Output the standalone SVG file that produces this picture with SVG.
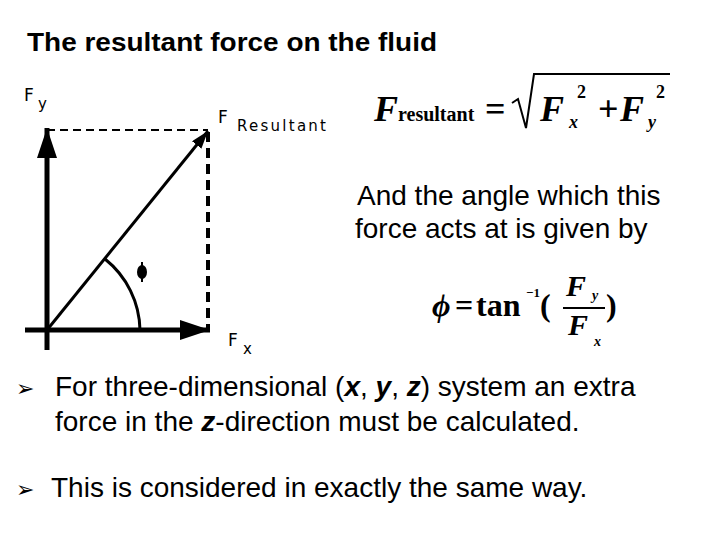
<svg xmlns="http://www.w3.org/2000/svg" width="720" height="540" viewBox="0 0 720 540">
<style>
.s{font-family:"Liberation Sans",Arial,sans-serif;fill:#000}
.m{font-family:"Liberation Serif","Times New Roman",serif;font-weight:bold;fill:#000}
.d{font-family:"DejaVu Sans",sans-serif;fill:#000}
.ln{stroke:#000;fill:none}
</style>
<defs>
<marker id="ah" markerWidth="6" markerHeight="4" refX="6" refY="2" orient="auto" markerUnits="strokeWidth"><path d="M0,0L6,2L0,4z" fill="#000"/></marker>
</defs>
<rect width="720" height="540" fill="#fff"/>
<text class="s" x="27" y="51" font-size="25" font-weight="bold" textLength="410" lengthAdjust="spacingAndGlyphs">The resultant force on the fluid</text>
<g id="connectors">
<line class="ln" x1="47" y1="350" x2="47" y2="128" stroke-width="5" marker-end="url(#ah)"/>
<line class="ln" x1="25" y1="330" x2="210" y2="330" stroke-width="5" marker-end="url(#ah)"/>
<line class="ln" x1="47" y1="330" x2="208" y2="131" stroke-width="3" marker-end="url(#ah)"/>
<line class="ln" x1="47" y1="130" x2="208" y2="130" stroke-width="2" stroke-dasharray="8,5"/>
<line class="ln" x1="208" y1="132" x2="208" y2="330" stroke-width="4" stroke-dasharray="10,6"/>
<path class="ln" d="M105,259 A93,93 0 0 1 140,330" stroke-width="3"/>
</g>
<g id="labels">
<text class="d" x="24" y="101" font-size="17">F</text><text class="d" x="38" y="109" font-size="15">y</text>
<text class="d" x="218" y="123" font-size="17">F</text><text class="d" x="237" y="131" font-size="15" textLength="89">Resultant</text>
<text class="d" x="228" y="346" font-size="17">F</text><text class="d" x="243" y="354" font-size="15">x</text>
<ellipse cx="142" cy="272" rx="5" ry="7" fill="#000"/><line class="ln" x1="142" y1="262" x2="142" y2="282" stroke-width="2"/>
</g>
<g id="formula1">
<text class="m" x="374" y="121" font-size="36" font-style="italic">F</text>
<text class="m" x="398" y="121" font-size="20">resultant</text>
<text class="m" x="485" y="121" font-size="36">=</text>
<path d="M512,103 L518,99 L526,128 L534,74 L670,74" class="ln" stroke-width="2"/>
<text class="m" x="540" y="121" font-size="36" font-style="italic">F</text>
<text class="m" x="569" y="128" font-size="18" font-style="italic">x</text>
<text class="m" x="577" y="98" font-size="18">2</text>
<text class="m" x="598" y="121" font-size="36">+</text>
<text class="m" x="620" y="121" font-size="36" font-style="italic">F</text>
<text class="m" x="648" y="128" font-size="18" font-style="italic">y</text>
<text class="m" x="656" y="98" font-size="18">2</text>
</g>
<text class="s" x="357" y="205" font-size="28">And the angle which this</text>
<text class="s" x="355" y="238" font-size="28">force acts at is given by</text>
<g id="formula2">
<text class="m" x="432" y="316" font-size="32" font-style="italic">ϕ</text>
<text class="m" x="455" y="316" font-size="32">=</text>
<text class="m" x="476" y="316" font-size="32">tan</text>
<text class="m" x="526" y="297" font-size="13">−1</text>
<text class="m" x="540" y="316" font-size="32">(</text>
<text class="m" x="566" y="296" font-size="30" font-style="italic">F</text>
<text class="m" x="592" y="300" font-size="14" font-style="italic">y</text>
<line class="ln" x1="563" y1="308" x2="605" y2="308" stroke-width="2"/>
<text class="m" x="568" y="335" font-size="30" font-style="italic">F</text>
<text class="m" x="594" y="346" font-size="14" font-style="italic">x</text>
<text class="m" x="606" y="316" font-size="32">)</text>
</g>
<g id="bullets">
<text class="d" x="16" y="396" font-size="22">➢</text>
<text class="s" x="55" y="396" font-size="28">For three-dimensional (<tspan font-weight="bold" font-style="italic">x</tspan>, <tspan font-weight="bold" font-style="italic">y</tspan>, <tspan font-weight="bold" font-style="italic">z</tspan>) system an extra</text>
<text class="s" x="55" y="431" font-size="28">force in the <tspan font-weight="bold" font-style="italic">z</tspan>-direction must be calculated.</text>
<text class="d" x="16" y="497" font-size="22">➢</text>
<text class="s" x="51" y="497" font-size="28">This is considered in exactly the same way.</text>
</g>
</svg>
